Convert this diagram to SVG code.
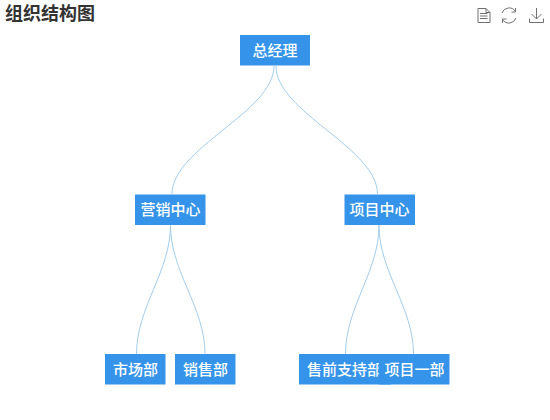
<svg xmlns="http://www.w3.org/2000/svg" width="550" height="420" viewBox="0 0 550 420">
<style>
text{font-family:"Noto Sans CJK SC","Liberation Sans",sans-serif}
.t{font-size:18px;font-weight:700;fill:#333}
.n rect{fill:#3594ea}
.n text{font-size:15px;font-weight:500;fill:#fff;text-anchor:middle}
.e path{fill:none;stroke:#a3cdec;stroke-width:1}
.i path{fill:none;stroke:#707070;stroke-width:1}
</style>
<rect width="550" height="420" fill="#fff"/>
<text class="t" x="5" y="20">组织结构图</text>
<g class="i">
<path d="M478 8.500H486L490 12.500V22.500H478ZM486 8.500V12.500H490M480 13.500H487.500M480 16H487.500M480 18.500H487.500"/>
<path d="M502 13A7.500 7.500 0 0 1 515.500 11.500M515.500 8V12H511.500M516 18A7.500 7.500 0 0 1 502.500 19.500M502.500 23V19H506.500"/>
<path d="M536.500 8V19M531.500 14L536.500 19L541.500 14M529.500 18.500V22.500H543.500V18.500"/>
</g>
<g class="e">
<path d="M274 66C274 112 172 148 172 194"/>
<path d="M276 66C276 112 377.500 148 377.500 194"/>
<path d="M170.500 225C170.500 272 136.500 307 136.500 354"/>
<path d="M170.500 225C170.500 272 205 307 205 354"/>
<path d="M379 225C379 272 345.500 307 345.500 354"/>
<path d="M379 225C379 272 413.500 307 413.500 354"/>
</g>
<g class="n" id="n1"><rect x="240" y="35" width="70" height="30.500"/><text x="275" y="56">总经理</text></g>
<g class="n" id="n2"><rect x="135" y="194.500" width="70.500" height="30.500"/><text x="170.500" y="215">营销中心</text></g>
<g class="n" id="n3"><rect x="344.500" y="194.500" width="70.500" height="30.500"/><text x="379.500" y="215">项目中心</text></g>
<g class="n" id="n4"><rect x="105" y="354" width="60.500" height="30.500"/><text x="135.500" y="375">市场部</text></g>
<g class="n" id="n5"><rect x="175" y="354" width="60.500" height="30.500"/><text x="205.500" y="375">销售部</text></g>
<g class="n" id="n6"><rect x="299" y="354" width="92" height="30.500"/><text x="344.500" y="375">售前支持部</text></g>
<g class="n" id="n7"><rect x="379" y="354" width="70.500" height="30.500"/><text x="414.500" y="375">项目一部</text></g>
</svg>
